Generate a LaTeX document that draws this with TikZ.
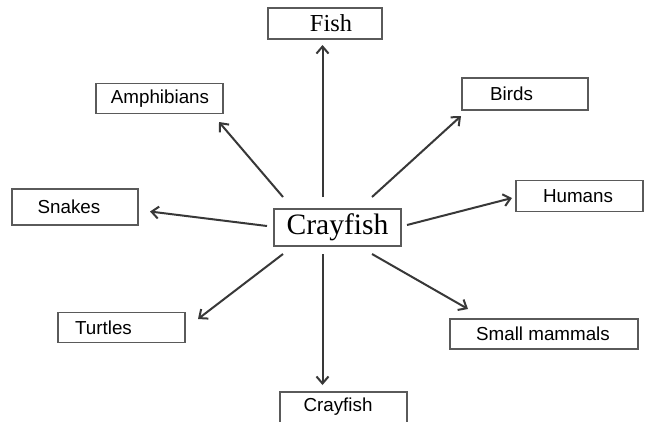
\documentclass[tikz,border=0pt]{standalone}
\usepackage{fontspec}
\setmainfont{Liberation Serif}
\setsansfont{Liberation Sans}
\usetikzlibrary{arrows.meta}
\definecolor{boxgray}{HTML}{5A5A5A}
\definecolor{arrgray}{HTML}{383838}
\tikzset{
  box/.style={draw=boxgray, line width=1.2pt, fill=white, inner sep=0pt},
  sanslab/.style={font=\sffamily\fontsize{18.8}{20}\selectfont, inner sep=0pt},
  seriflab/.style={font=\fontsize{24.4}{26}\selectfont, inner sep=0pt},
  biglab/.style={font=\fontsize{29.6}{31}\selectfont, inner sep=0pt},
  arr/.style={draw=arrgray, line width=2pt, -{Straight Barb[length=7pt,width=12pt,line width=2pt]}}
}
\begin{document}
\begin{tikzpicture}[x=1pt,y=-1pt]
\useasboundingbox (0,0) rectangle (645,421);
\fill[white] (0,0) rectangle (645,421);

% boxes
\node[box, minimum width=114pt, minimum height=31pt] (fish) at (325,23.5) {};
\node[seriflab] (fishT) at (331,23.5) {Fish};

\node[box, minimum width=127pt, minimum height=30pt] (amph) at (159.5,98.5) {};
\node[sanslab] (amphT) at (160,98.5) {Amphibians};

\node[box, minimum width=126pt, minimum height=32pt] (birds) at (525,94) {};
\node[sanslab] (birdsT) at (511.5,94) {Birds};

\node[box, minimum width=126pt, minimum height=36pt] (snakes) at (75,207) {};
\node[sanslab] (snakesT) at (69,207) {Snakes};

\node[box, minimum width=127pt, minimum height=37pt] (cray) at (337.5,227.5) {};
\node[biglab] (crayT) at (337.5,227.5) {Crayfish};

\node[box, minimum width=127pt, minimum height=31pt] (humans) at (579.5,196) {};
\node[sanslab] (humansT) at (578,196) {Humans};

\node[box, minimum width=127pt, minimum height=30pt] (turtles) at (121.5,327.5) {};
\node[sanslab] (turtlesT) at (103.5,327.5) {Turtles};

\node[box, minimum width=188pt, minimum height=30pt] (small) at (544,334) {};
\node[sanslab] (smallT) at (543,334) {Small mammals};

\node[box, minimum width=127pt, minimum height=40pt] (bottom) at (343.5,412) {};
\node[sanslab] (bottomT) at (338,407) {Crayfish};

% arrow ends
\coordinate (tFish) at (322.5,197);  \coordinate (hFish) at (322.5,45);
\coordinate (tAmph) at (283,197);    \coordinate (hAmph) at (219,122);
\coordinate (tBirds) at (372,197);   \coordinate (hBirds) at (461,116);
\coordinate (tSnakes) at (267,226);  \coordinate (hSnakes) at (150,211.5);
\coordinate (tHumans) at (407,225);  \coordinate (hHumans) at (512,198);
\coordinate (tTurtles) at (283,254); \coordinate (hTurtles) at (198,319);
\coordinate (tBottom) at (322.5,254); \coordinate (hBottom) at (322.5,385);
\coordinate (tSmall) at (372,254);   \coordinate (hSmall) at (468,309);

\draw[arr] (tFish) -- (hFish);
\draw[arr] (tAmph) -- (hAmph);
\draw[arr] (tBirds) -- (hBirds);
\draw[arr] (tSnakes) -- (hSnakes);
\draw[arr] (tHumans) -- (hHumans);
\draw[arr] (tTurtles) -- (hTurtles);
\draw[arr] (tBottom) -- (hBottom);
\draw[arr] (tSmall) -- (hSmall);
\end{tikzpicture}
\end{document}
